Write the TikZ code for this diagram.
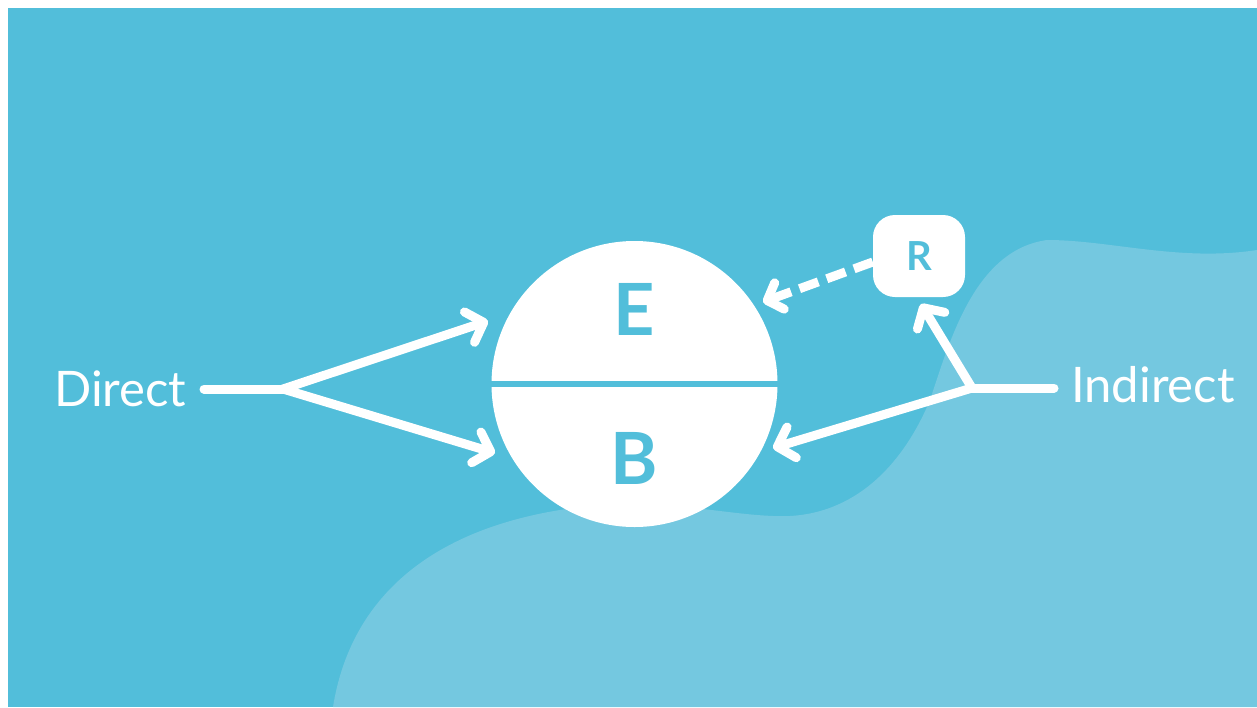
\documentclass[tikz,border=0pt]{standalone}
\usepackage{fontspec}
\setmainfont{Lato}
\usetikzlibrary{arrows.meta}
\definecolor{bgdark}{RGB}{82,190,218}
\definecolor{bglight}{RGB}{116,200,224}
\tikzset{
  link/.style={draw=white, line width=9pt, line cap=round,
    -{Straight Barb[length=15pt, width=32pt, round]}},
  feed/.style={draw=white, line width=9pt, line cap=round},
  dashlink/.style={draw=white, line width=9pt, dash pattern=on 20pt off 9pt,
    -{Straight Barb[length=13pt, width=28pt, round]}},
  letter/.style={text=bgdark, font=\bfseries\fontsize{72}{80}\selectfont, inner sep=0pt},
  smallletter/.style={text=bgdark, font=\bfseries\fontsize{40}{46}\selectfont, inner sep=0pt},
  label/.style={text=white, font=\fontsize{49}{58}\selectfont, inner sep=0pt}
}
\begin{document}
\begin{tikzpicture}[x=1pt,y=-1pt]
\useasboundingbox (0,0) rectangle (1257,707);
\fill[white] (0,0) rectangle (1257,707);
\fill[bgdark] (8,8) rectangle (1257,707);
\fill[bglight] (333,707) .. controls (350,600) and (430,520) .. (600,505)
  .. controls (680,500) and (740,518) .. (790,516)
  .. controls (860,512) and (905,460) .. (930,400)
  .. controls (950,340) and (975,250) .. (1047,240)
  .. controls (1110,240) and (1180,262) .. (1257,250)
  -- (1257,707) -- cycle;
% main circle
\node[circle, fill=white, minimum size=286pt, inner sep=0pt] (C) at (634.5,384) {};
\draw[bgdark, line width=6pt] (C.west) -- (C.east);
\node[letter] (E) at (634,309) {E};
\node[letter] (B) at (634,458) {B};
% R box
\node[fill=white, rounded corners=22pt, minimum width=92pt, minimum height=82pt,
      inner sep=0pt] (R) at (919,256) {};
\node[smallletter] (Rt) at (919,256) {R};
% labels
\node[label, anchor=base west] (D) at (54,406) {Direct};
\node[label, anchor=base west] (I) at (1071,402) {Indirect};
% direct connectors
\coordinate (dL) at (204,389);
\coordinate (dJ) at (283,389);
\coordinate (tE) at (488,321);
\coordinate (tB) at (495,453);
\draw[feed] (dL) -- (dJ);
\draw[link] (dJ) -- (tE);
\draw[link] (dJ) -- (tB);
% indirect connectors
\coordinate (iL) at (1054,388);
\coordinate (iJ) at (972,388);
\coordinate (tR) at (921,304);
\coordinate (tB2) at (773,448);
\coordinate (tE2) at (763,302);
\draw[feed] (iL) -- (iJ);
\draw[link] (iJ) -- (tR);
\draw[link] (iJ) -- (tB2);
\draw[dashlink] (R.west |- 0,262) -- (tE2);
\end{tikzpicture}
\end{document}
